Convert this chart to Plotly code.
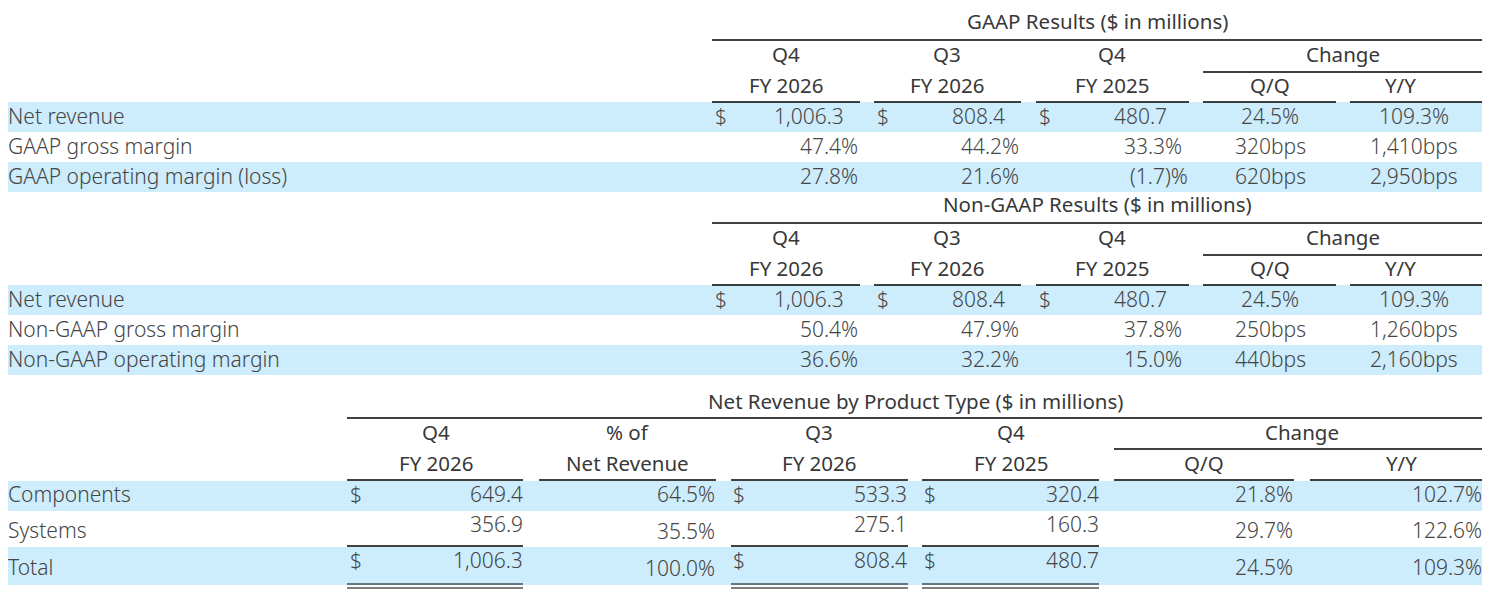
import plotly.graph_objects as go

# GAAP results ($ in millions)
gaap_labels = ["Net revenue", "GAAP gross margin", "GAAP operating margin (loss)"]
gaap_q4_fy26 = [1006.3, 47.4, 27.8]
gaap_q3_fy26 = [808.4, 44.2, 21.6]
gaap_q4_fy25 = [480.7, 33.3, -1.7]
gaap_qq = ["24.5%", "320bps", "620bps"]
gaap_yy = ["109.3%", "1,410bps", "2,950bps"]

# Non-GAAP results ($ in millions)
ngaap_labels = ["Net revenue", "Non-GAAP gross margin", "Non-GAAP operating margin"]
ngaap_q4_fy26 = [1006.3, 50.4, 36.6]
ngaap_q3_fy26 = [808.4, 47.9, 32.2]
ngaap_q4_fy25 = [480.7, 37.8, 15.0]
ngaap_qq = ["24.5%", "250bps", "440bps"]
ngaap_yy = ["109.3%", "1,260bps", "2,160bps"]

# Net revenue by product type ($ in millions)
prod_labels = ["Components", "Systems", "Total"]
prod_q4_fy26 = [649.4, 356.9, 1006.3]
prod_share = [64.5, 35.5, 100.0]
prod_q3_fy26 = [533.3, 275.1, 808.4]
prod_q4_fy25 = [320.4, 160.3, 480.7]
prod_qq = [21.8, 29.7, 24.5]
prod_yy = [102.7, 122.6, 109.3]

col_heads = [("Q4", "FY 2026"), ("Q3", "FY 2026"), ("Q4", "FY 2025")]

TXT = "#454545"
HEAD = "#383838"
BAND = "#cdecfc"
FONT = "Noto Sans"
FS = 21

fig = go.Figure()


def text(x, y, s, anchor="center", head=False):
    fig.add_annotation(x=x, y=y - 1, text=s, showarrow=False, xref="x", yref="y",
                       xanchor=anchor, yanchor="middle", borderpad=0, borderwidth=0,
                       font=dict(family=FONT, size=FS - 0.5 if head else FS,
                                 color=HEAD if head else TXT,
                                 weight=400 if head else 300))


def head(x, y, s):
    text(x, y, s, head=True)


def hline(x0, x1, y, w=1.3):
    fig.add_shape(type="line", x0=x0, x1=x1, y0=y, y1=y, xref="x", yref="y",
                  line=dict(color="black", width=w))


def band(x0, x1, y0, y1):
    fig.add_shape(type="rect", x0=x0, x1=x1, y0=y0, y1=y1, xref="x", yref="y",
                  fillcolor=BAND, line_width=0, layer="below")


def money(v):
    return f"{v:,.1f}"


def results_block(top, title, labels, c1, c2, c3, qq, yy):
    # top = y of the line under the title
    band(6, 1482, top + 62, top + 92)
    band(6, 1482, top + 122, top + 152)
    head(1097, top - 18, title)
    hline(712, 1482, top)
    hline(1203, 1482, top + 32)
    for x0, x1 in [(712, 860), (874, 1021), (1036, 1189), (1203, 1336), (1350, 1482)]:
        hline(x0, x1, top + 62)
    for cx, (a, b) in zip([786, 947, 1112], col_heads):
        head(cx, top + 15, a)
        head(cx, top + 46, b)
    head(1343, top + 15, "Change")
    head(1270, top + 46, "Q/Q")
    head(1400, top + 46, "Y/Y")
    # $ position, number right edge, percent right edge
    cols = [(c1, 715, 844, 858), (c2, 877, 1005, 1019), (c3, 1039, 1167, 1182)]
    for i, lab in enumerate(labels):
        y = top + 77 + 30 * i
        text(8, y, lab, "left")
        for vals, xd, xe, xp in cols:
            v = vals[i]
            if i == 0:
                text(xd, y, "$", "left")
                text(xe, y, money(v), "right")
            elif v < 0:
                text(xp + 6, y, f"({abs(v):.1f})%", "right")
            else:
                text(xp, y, f"{v:.1f}%", "right")
        text(1270, y, qq[i])
        text(1414, y, yy[i])


results_block(40, "GAAP Results ($ in millions)", gaap_labels,
              gaap_q4_fy26, gaap_q3_fy26, gaap_q4_fy25, gaap_qq, gaap_yy)
results_block(223, "Non-GAAP Results ($ in millions)", ngaap_labels,
              ngaap_q4_fy26, ngaap_q3_fy26, ngaap_q4_fy25, ngaap_qq, ngaap_yy)

# product type table
band(8, 1482, 481, 511)
band(8, 1482, 547, 585)
head(915, 402, "Net Revenue by Product Type ($ in millions)")
hline(347, 1482, 418)
hline(1114, 1482, 449)
for x0, x1 in [(347, 523), (539, 716), (731, 908), (922, 1099), (1114, 1294), (1310, 1482)]:
    hline(x0, x1, 480)
for x0, x1 in [(347, 523), (731, 908), (922, 1099)]:
    hline(x0, x1, 546)
    hline(x0, x1, 584, 1.2)
    hline(x0, x1, 588, 1.2)
head(436, 433, "Q4")
head(436, 464, "FY 2026")
head(627, 433, "% of")
head(627, 464, "Net Revenue")
head(819, 433, "Q3")
head(819, 464, "FY 2026")
head(1011, 433, "Q4")
head(1011, 464, "FY 2025")
head(1302, 433, "Change")
head(1204, 464, "Q/Q")
head(1401, 464, "Y/Y")

row_y = [495, 531, 568]
money_y = [495, 525, 561]
for i, lab in enumerate(prod_labels):
    text(8, row_y[i], lab, "left")
    for vals, xd, xe in [(prod_q4_fy26, 350, 523), (prod_q3_fy26, 733, 907), (prod_q4_fy25, 924, 1099)]:
        if i != 1:
            text(xd, money_y[i], "$", "left")
        text(xe, money_y[i], money(vals[i]), "right")
    py = 495 if i == 0 else row_y[i] + 1
    text(715, py, f"{prod_share[i]:.1f}%", "right")
    text(1293, row_y[i], f"{prod_qq[i]:.1f}%", "right")
    text(1482, row_y[i], f"{prod_yy[i]:.1f}%", "right")

# page body has an 8px margin, so the figure is sized to the remaining area
fig.update_layout(
    width=1482, height=593,
    margin=dict(l=0, r=0, t=0, b=0),
    paper_bgcolor="white", plot_bgcolor="white",
    xaxis=dict(range=[8, 1490], visible=False, fixedrange=True),
    yaxis=dict(range=[601, 8], visible=False, fixedrange=True),
    showlegend=False,
)

fig.write_html("out.html")
